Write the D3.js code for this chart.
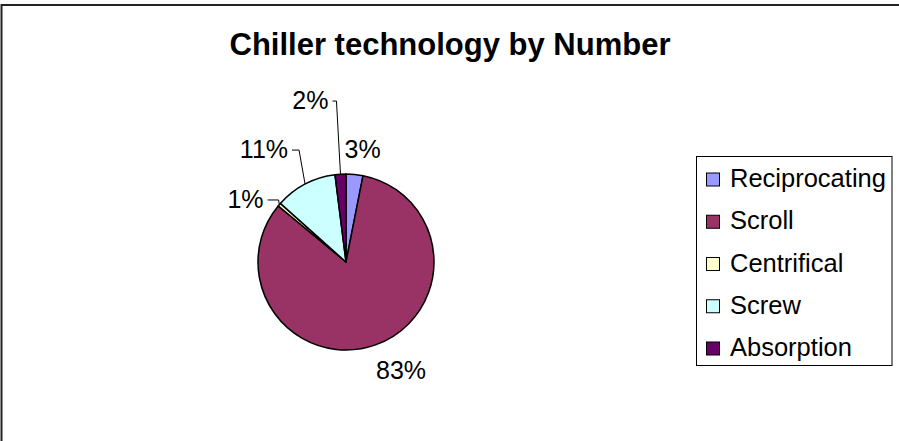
<!DOCTYPE html>
<html>
<head>
<meta charset="utf-8">
<script src="https://cdn.jsdelivr.net/npm/d3@7"></script>
<style>
  html, body { margin: 0; padding: 0; background: #fff; }
  svg { display: block; }
  text { font-family: "Liberation Sans", Arial, sans-serif; fill: #000; }
</style>
</head>
<body>
<svg id="chart" width="899" height="441"></svg>
<script>
// ---- data ----
const title = "Chiller technology by Number";
const categories = ["Reciprocating", "Scroll", "Centrifical", "Screw", "Absorption"];
const values = [3.1, 82.9, 0.6, 11.4, 2.0];
const labels = ["3%", "83%", "1%", "11%", "2%"];
const colors = ["#9999FF", "#993366", "#FFFFCC", "#CCFFFF", "#660066"];

// ---- layout ----
const W = 899, H = 441;
const cx = 346, cy = 262, R = 88;
// label placement (polar, degrees clockwise from top), leader flag, horizontal leader length
const labelLayout = [
  { angle: 8.3,   dist: 114.7, leader: false },
  { angle: 153.1, dist: 121.6, leader: false },
  { angle: 302.1, dist: 118.6, leader: true, hlen: 11 },
  { angle: 324.0, dist: 139.6, leader: true, hlen: 7 },
  { angle: 347.6, dist: 165.8, leader: true, hlen: 4 }
];

const svg = d3.select("#chart");

// outer chart frame (cropped at right/bottom)
svg.append("rect")
  .attr("x", 1.5).attr("y", 5).attr("width", W + 10).attr("height", H + 10)
  .attr("fill", "#fff").attr("stroke", "#222").attr("stroke-width", 2);

// title
svg.append("text")
  .attr("x", 450).attr("y", 54.5)
  .attr("text-anchor", "middle")
  .attr("font-size", 31).attr("font-weight", "bold")
  .text(title);

// pie
const pie = d3.pie().sort(null).value(d => d)(values);
const arc = d3.arc().innerRadius(0).outerRadius(R);
const g = svg.append("g").attr("transform", `translate(${cx},${cy})`);
g.selectAll("path.slice").data(pie).enter().append("path")
  .attr("class", "slice")
  .attr("d", arc)
  .attr("fill", (d, i) => colors[i])
  .attr("stroke", "#000").attr("stroke-width", 1.5).attr("stroke-linejoin", "round");

// labels + leaders
const toRad = a => a * Math.PI / 180;
const fs = 25;
pie.forEach((d, i) => {
  const L = labelLayout[i];
  const lx = cx + L.dist * Math.sin(toRad(L.angle));
  const ly = cy - L.dist * Math.cos(toRad(L.angle));
  const t = svg.append("text")
    .attr("font-size", fs)
    .attr("y", ly + 0.36 * fs)
    .text(labels[i]);
  if (!L.leader) {
    t.attr("x", lx).attr("text-anchor", "middle");
  } else {
    const tw = t.node().getComputedTextLength();
    const right = lx + tw / 2;
    t.attr("x", right).attr("text-anchor", "end");
    const mid = (d.startAngle + d.endAngle) / 2;
    const ax = cx + R * Math.sin(mid), ay = cy - R * Math.cos(mid);
    const x0 = right + 4, y0 = ly + 1;
    const bx = x0 + L.hlen;
    svg.append("polyline")
      .attr("points", `${x0},${y0} ${bx},${y0} ${ax},${ay}`)
      .attr("fill", "none").attr("stroke", "#000").attr("stroke-width", 1);
  }
});

// legend
const lgX = 696.5, lgY = 156.5, lgW = 195.5, lgH = 209;
const lg = svg.append("g");
lg.append("rect").attr("x", lgX).attr("y", lgY).attr("width", lgW).attr("height", lgH)
  .attr("fill", "#fff").attr("stroke", "#000").attr("stroke-width", 1);
const rowY = d3.scalePoint().domain(categories).range([179.5, 348.5]);
categories.forEach((c, i) => {
  const y = rowY(c);
  lg.append("rect").attr("x", 706.5).attr("y", y - 6.5).attr("width", 13).attr("height", 13)
    .attr("fill", colors[i]).attr("stroke", "#000").attr("stroke-width", 1);
  lg.append("text").attr("x", 730).attr("y", y + 7.5).attr("font-size", 25.5).text(c);
});
</script>
</body>
</html>
